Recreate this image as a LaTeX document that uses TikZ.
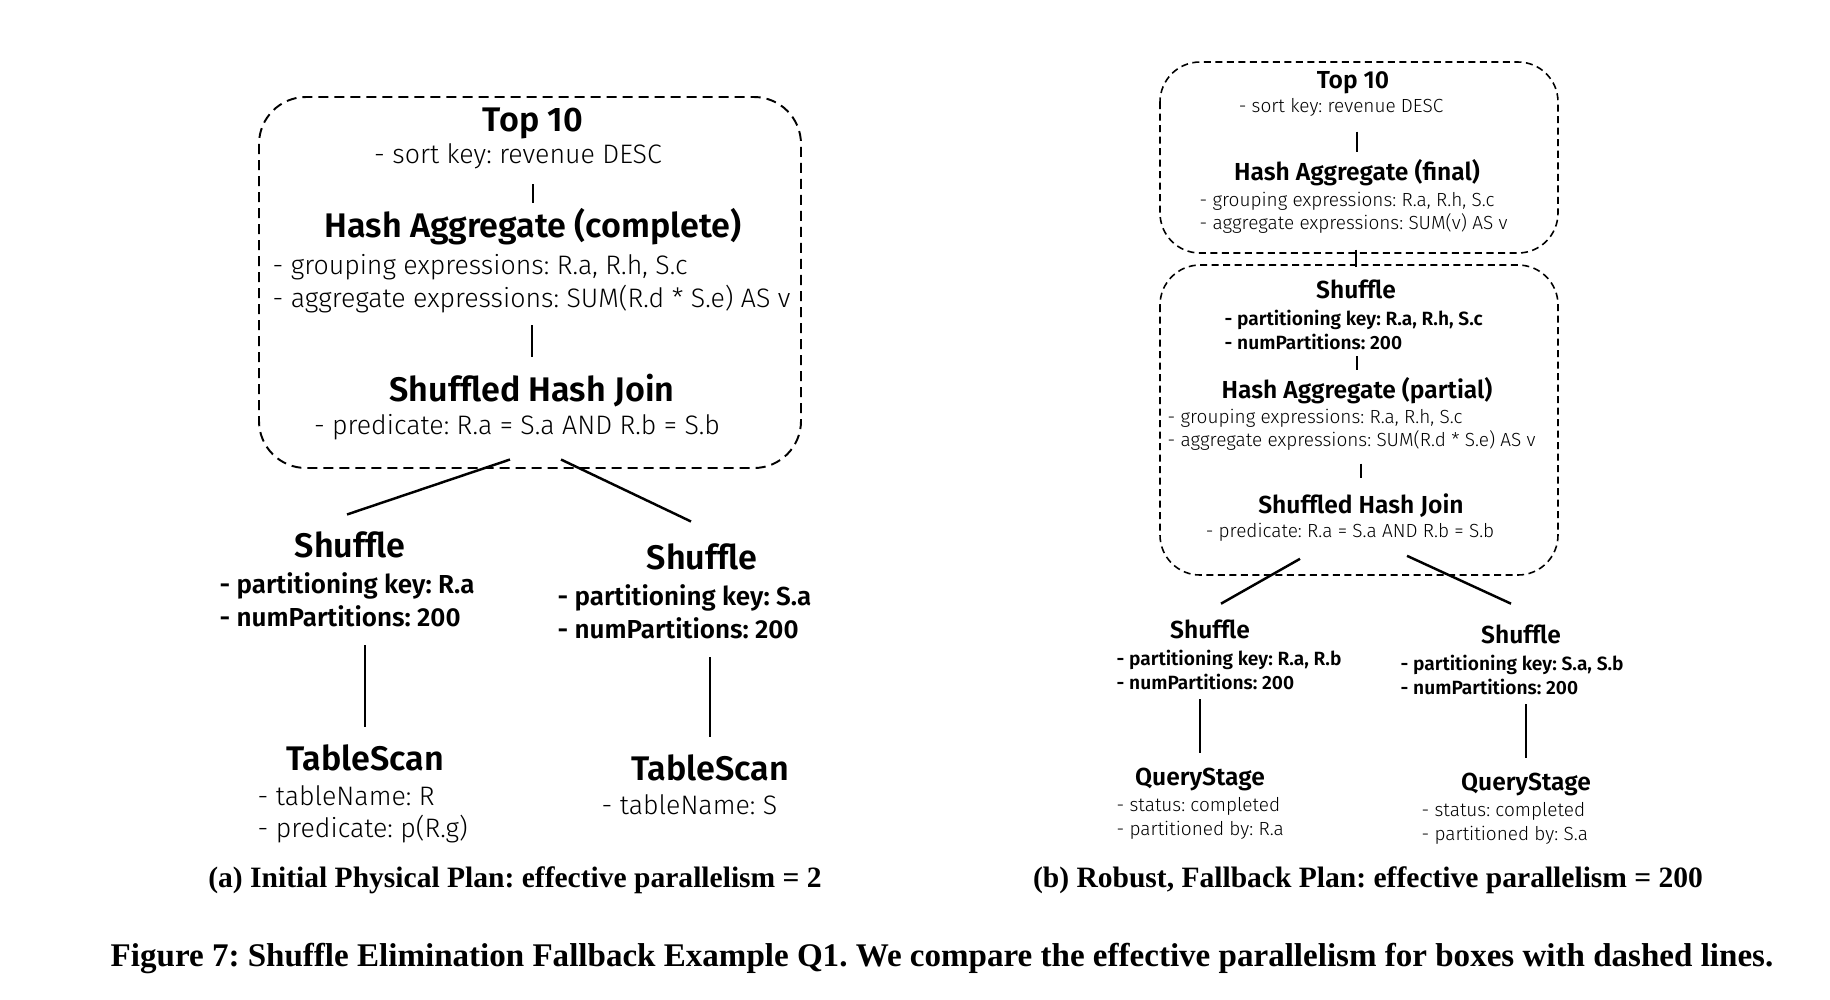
\documentclass[tikz,border=0pt]{standalone}
\usepackage{fontspec}
\setmainfont{Liberation Serif}
\newfontfamily\planlight{Fira Sans Light}
\newfontfamily\planbold{Fira Sans SemiBold}
\usepackage{tikz}
\frenchspacing
\tikzstyle{opname}=[font=\planbold\fontsize{9.7}{11}\selectfont, inner sep=0pt]
\tikzstyle{opinfo}=[font=\planlight\fontsize{7.6}{9.2}\selectfont, align=left, inner sep=0pt]
\tikzstyle{opkey}=[font=\planbold\fontsize{7.4}{9.3}\selectfont, align=left, inner sep=0pt]
\tikzstyle{smallname}=[font=\planbold\fontsize{7}{8}\selectfont, inner sep=0pt]
\tikzstyle{smallinfo}=[font=\planlight\fontsize{5.4}{6.8}\selectfont, align=left, inner sep=0pt]
\tikzstyle{smallkey}=[font=\planbold\fontsize{5.45}{6.8}\selectfont, align=left, inner sep=0pt]
\tikzstyle{link}=[draw=black, line width=0.7pt]
\tikzstyle{bigstage}=[draw=black, line width=0.55pt, dash pattern=on 1mm off 0.6mm, rounded corners=4.7mm]
\tikzstyle{smallstage}=[draw=black, line width=0.45pt, dash pattern=on 0.7mm off 0.45mm, rounded corners=4mm]
\tikzstyle{subcap}=[font=\bfseries\fontsize{8.4}{10}\selectfont, inner sep=0pt]
\tikzstyle{figcap}=[font=\bfseries\fontsize{9.4}{11}\selectfont, inner sep=0pt]

\begin{document}
\begin{tikzpicture}[x=0.01cm, y=-0.01cm]
  \useasboundingbox (0,0) rectangle (1830,999);
  % (a) initial physical plan
  \begin{scope}
    \draw[bigstage] (259,97) rectangle (801,468);
    \node (ltop) at (533,131) [opname, anchor=base] {Top 10};
    \node (ltop-info) at (518,156) [opinfo] {- sort key: revenue DESC};
    \node (lagg) at (533,237) [opname, anchor=base] {Hash Aggregate (complete)};
    \node (lagg-info) at (272,254) [opinfo, anchor=north west] {- grouping expressions: R.a, R.h, S.c\\- aggregate expressions: SUM(R.d * S.e) AS v};
    \node (ljoin) at (532,401) [opname, anchor=base] {Shuffled Hash Join};
    \node (ljoin-info) at (517,427) [opinfo] {- predicate: R.a = S.a AND R.b = S.b};
    \node (lshr) at (350,557) [opname, anchor=base] {Shuffle};
    \node (lshr-info) at (219,572) [opkey, anchor=north west] {- partitioning key: R.a\\- numPartitions: 200};
    \node (lshs) at (702,569) [opname, anchor=base] {Shuffle};
    \node (lshs-info) at (557,584) [opkey, anchor=north west] {- partitioning key: S.a\\- numPartitions: 200};
    \node (lscanr) at (365,770) [opname, anchor=base] {TableScan};
    \node (lscanr-info) at (257,785) [opinfo, anchor=north west] {- tableName: R\\- predicate: p(R.g)};
    \node (lscans) at (710,780) [opname, anchor=base] {TableScan};
    \node (lscans-info) at (601,805) [opinfo, anchor=west] {- tableName: S};
    \node (capa) at (515,880) [subcap] {(a) Initial Physical Plan: effective parallelism = 2};
  \end{scope}
  \begin{scope}
    \path [link] (ltop-info.south -| lagg.north) edge[shorten <=1.5mm, shorten >=0.4mm] (lagg.north);
    \path [link] (lagg-info.south -| ljoin.north) edge[shorten <=1.2mm, shorten >=1.6mm] (ljoin.north);
    \path [link] ([shift={(-7,19)}]ljoin-info.south) edge ([shift={(-3,-16)}]lshr.north);
    \path [link] ([shift={(44,19)}]ljoin-info.south) edge ([shift={(-11,-21)}]lshs.north);
    \path [link] (lshr-info.south -| lscanr.north) edge[shorten <=1.8mm, shorten >=1.6mm] (lscanr.north);
    \path [link] (lshs-info.south -| lscans.north) edge[shorten <=1.8mm, shorten >=1.6mm] (lscans.north);
  \end{scope}
  % (b) robust, fallback plan
  \begin{scope}
    \draw[smallstage] (1160,62) rectangle (1558,253);
    \draw[smallstage] (1160,265) rectangle (1558,575);
    \node (rtop) at (1353,88) [smallname, anchor=base] {Top 10};
    \node (rtop-info) at (1341,107) [smallinfo] {- sort key: revenue DESC};
    \node (raggf) at (1357,180) [smallname, anchor=base] {Hash Aggregate (final)};
    \node (raggf-info) at (1199,191) [smallinfo, anchor=north west] {- grouping expressions: R.a, R.h, S.c\\- aggregate expressions: SUM(v) AS v};
    \node (rsh) at (1356,298) [smallname, anchor=base] {Shuffle};
    \node (rsh-info) at (1224,309) [smallkey, anchor=north west] {- partitioning key: R.a, R.h, S.c\\- numPartitions: 200};
    \node (raggp) at (1357,398) [smallname, anchor=base] {Hash Aggregate (partial)};
    \node (raggp-info) at (1167,408) [smallinfo, anchor=north west] {- grouping expressions: R.a, R.h, S.c\\- aggregate expressions: SUM(R.d * S.e) AS v};
    \node (rjoin) at (1361,513) [smallname, anchor=base] {Shuffled Hash Join};
    \node (rjoin-info) at (1350,532) [smallinfo] {- predicate: R.a = S.a AND R.b = S.b};
    \node (rshr) at (1210,638) [smallname, anchor=base] {Shuffle};
    \node (rshr-info) at (1116,649) [smallkey, anchor=north west] {- partitioning key: R.a, R.b\\- numPartitions: 200};
    \node (rshs) at (1521,643) [smallname, anchor=base] {Shuffle};
    \node (rshs-info) at (1400,654) [smallkey, anchor=north west] {- partitioning key: S.a, S.b\\- numPartitions: 200};
    \node (rqsr) at (1200,785) [smallname, anchor=base] {QueryStage};
    \node (rqsr-info) at (1116,797) [smallinfo, anchor=north west] {- status: completed\\- partitioned by: R.a};
    \node (rqss) at (1526,790) [smallname, anchor=base] {QueryStage};
    \node (rqss-info) at (1421,802) [smallinfo, anchor=north west] {- status: completed\\- partitioned by: S.a};
    \node (capb) at (1368,880) [subcap] {(b) Robust, Fallback Plan: effective parallelism = 200};
  \end{scope}
  \begin{scope}
    \path [link] (rtop-info.south -| raggf.north) edge[shorten <=1.5mm, shorten >=0.6mm] (raggf.north);
    \path [link] (raggf-info.south -| rsh.north) edge[shorten <=1.5mm, shorten >=1.2mm] (rsh.north);
    \path [link] (rsh-info.south -| raggp.north) edge[shorten <=0.6mm, shorten >=0.6mm] (raggp.north);
    \path [link] (raggp-info.south -| rjoin.north) edge[shorten <=1.2mm, shorten >=1.5mm] (rjoin.north);
    \path [link] ([shift={(-50,17)}]rjoin-info.south) edge ([shift={(11,-15)}]rshr.north);
    \path [link] ([shift={(57,14)}]rjoin-info.south) edge ([shift={(-10,-20)}]rshs.north);
    \path [link] (rshr-info.south -| rqsr.north) edge[shorten <=0.9mm, shorten >=1.4mm] (rqsr.north);
    \path [link] (rshs-info.south -| rqss.north) edge[shorten <=0.9mm, shorten >=1.4mm] (rqss.north);
  \end{scope}
  \node (figcaption) at (942,958) [figcap] {Figure 7: Shuffle Elimination Fallback Example Q1. We compare the effective parallelism for boxes with dashed lines.};
\end{tikzpicture}
\end{document}
